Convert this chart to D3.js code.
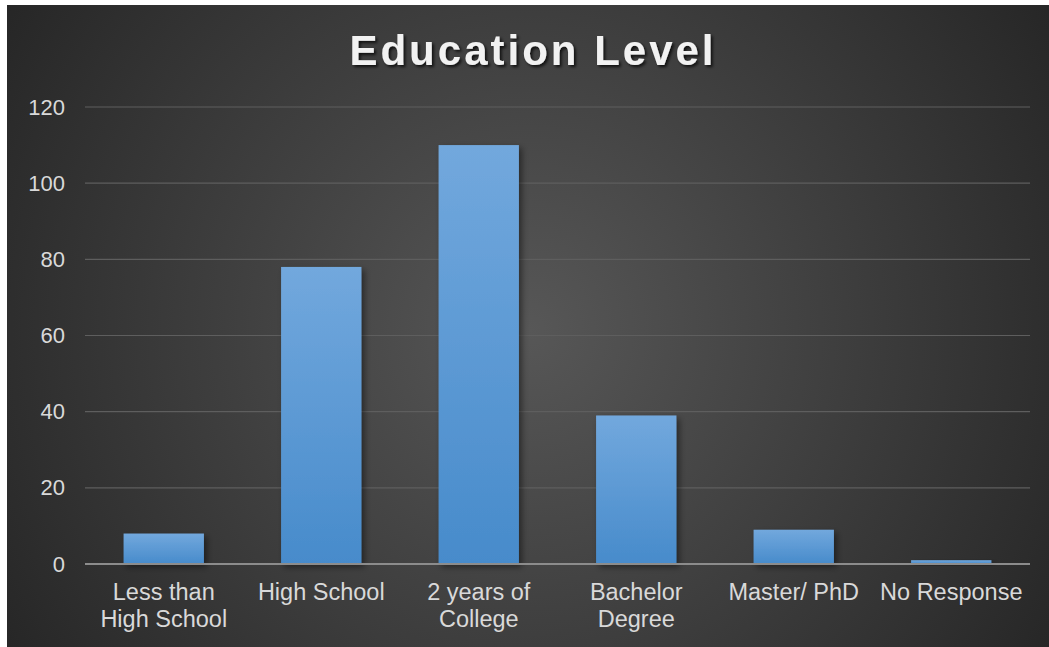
<!DOCTYPE html>
<html>
<head>
<meta charset="utf-8">
<script src="https://cdn.jsdelivr.net/npm/d3@7"></script>
<style>
  html, body { margin: 0; padding: 0; background: #ffffff; }
  svg { display: block; }
</style>
</head>
<body>
<svg id="chart" width="1049" height="647"></svg>
<script>
// Survey responses by education level
const categories = ["Less than\nHigh School", "High School", "2 years of\nCollege", "Bachelor\nDegree", "Master/ PhD", "No Response"];
const counts = [8, 78, 110, 39, 9, 1];
const yTicks = [0, 20, 40, 60, 80, 100, 120];
const title = "Education Level";

const svg = d3.select("#chart");
const W = 1049, H = 647;
const panel = { x: 7, y: 5, w: W - 7, h: H - 5 };
const plot = { left: 85, right: 1030, top: 107, bottom: 564 };
const FONT = "Liberation Sans, Arial, sans-serif";

const defs = svg.append("defs");

const bg = defs.append("radialGradient")
  .attr("id", "bgGrad")
  .attr("gradientUnits", "userSpaceOnUse")
  .attr("cx", 530).attr("cy", 330).attr("r", 620);
bg.append("stop").attr("offset", "0%").attr("stop-color", "#575757");
bg.append("stop").attr("offset", "100%").attr("stop-color", "#262626");

const barGrad = defs.append("linearGradient")
  .attr("id", "barGrad").attr("x1", 0).attr("y1", 0).attr("x2", 0).attr("y2", 1);
barGrad.append("stop").attr("offset", "0%").attr("stop-color", "#72a8dd");
barGrad.append("stop").attr("offset", "100%").attr("stop-color", "#478bcb");

const barShadow = defs.append("filter").attr("id", "barShadow")
  .attr("x", "-20%").attr("y", "-20%").attr("width", "150%").attr("height", "150%");
barShadow.append("feDropShadow")
  .attr("dx", 3).attr("dy", 3).attr("stdDeviation", 3)
  .attr("flood-color", "#000").attr("flood-opacity", 0.45);

const titleShadow = defs.append("filter").attr("id", "titleShadow")
  .attr("x", "-10%").attr("y", "-30%").attr("width", "120%").attr("height", "160%");
titleShadow.append("feDropShadow")
  .attr("dx", 2).attr("dy", 2).attr("stdDeviation", 1.5)
  .attr("flood-color", "#000").attr("flood-opacity", 0.75);

svg.append("rect")
  .attr("x", panel.x).attr("y", panel.y)
  .attr("width", panel.w).attr("height", panel.h)
  .attr("fill", "url(#bgGrad)");

const x = d3.scaleBand()
  .domain(categories)
  .range([plot.left, plot.right])
  .paddingInner(0.49).paddingOuter(0.245);

const y = d3.scaleLinear().domain([0, 120]).range([plot.bottom, plot.top]);

// gridlines
svg.append("g")
  .selectAll("line")
  .data(yTicks.filter(t => t > 0))
  .join("line")
  .attr("x1", plot.left).attr("x2", plot.right)
  .attr("y1", d => y(d)).attr("y2", d => y(d))
  .attr("stroke", "#5e5e5e").attr("stroke-width", 1.2);

// y axis labels
const yAxis = svg.append("g")
  .attr("transform", `translate(${plot.left},0)`)
  .call(d3.axisLeft(y).tickValues(yTicks).tickSize(0).tickPadding(20));
yAxis.select(".domain").remove();
yAxis.selectAll("text")
  .attr("fill", "#d9d9d9")
  .attr("font-family", FONT)
  .attr("font-size", 22);

// bars
svg.append("g")
  .selectAll("rect")
  .data(categories.map((c, i) => ({ c, v: counts[i] })))
  .join("rect")
  .attr("x", d => x(d.c))
  .attr("y", d => y(d.v))
  .attr("width", x.bandwidth())
  .attr("height", d => y(0) - y(d.v))
  .attr("fill", "url(#barGrad)")
  .attr("filter", "url(#barShadow)");

// baseline
svg.append("line")
  .attr("x1", plot.left).attr("x2", plot.right)
  .attr("y1", y(0)).attr("y2", y(0))
  .attr("stroke", "#8c8c8c").attr("stroke-width", 2);

// category labels
const xAxis = svg.append("g")
  .attr("transform", `translate(0,${plot.bottom})`)
  .call(d3.axisBottom(x).tickSize(0).tickFormat(""));
xAxis.select(".domain").remove();
xAxis.selectAll(".tick").each(function(d) {
  const t = d3.select(this).append("text")
    .attr("fill", "#d9d9d9")
    .attr("font-family", FONT)
    .attr("font-size", 23.5)
    .attr("text-anchor", "middle");
  d.split("\n").forEach((line, i) => {
    t.append("tspan").attr("x", 0).attr("y", 36 + i * 27).text(line);
  });
});

// title
svg.append("text")
  .attr("x", 533).attr("y", 65)
  .attr("text-anchor", "middle")
  .attr("fill", "#f2f2f2")
  .attr("font-family", FONT)
  .attr("font-weight", "bold")
  .attr("font-size", 42)
  .attr("letter-spacing", 3)
  .attr("filter", "url(#titleShadow)")
  .text(title);
</script>
</body>
</html>
